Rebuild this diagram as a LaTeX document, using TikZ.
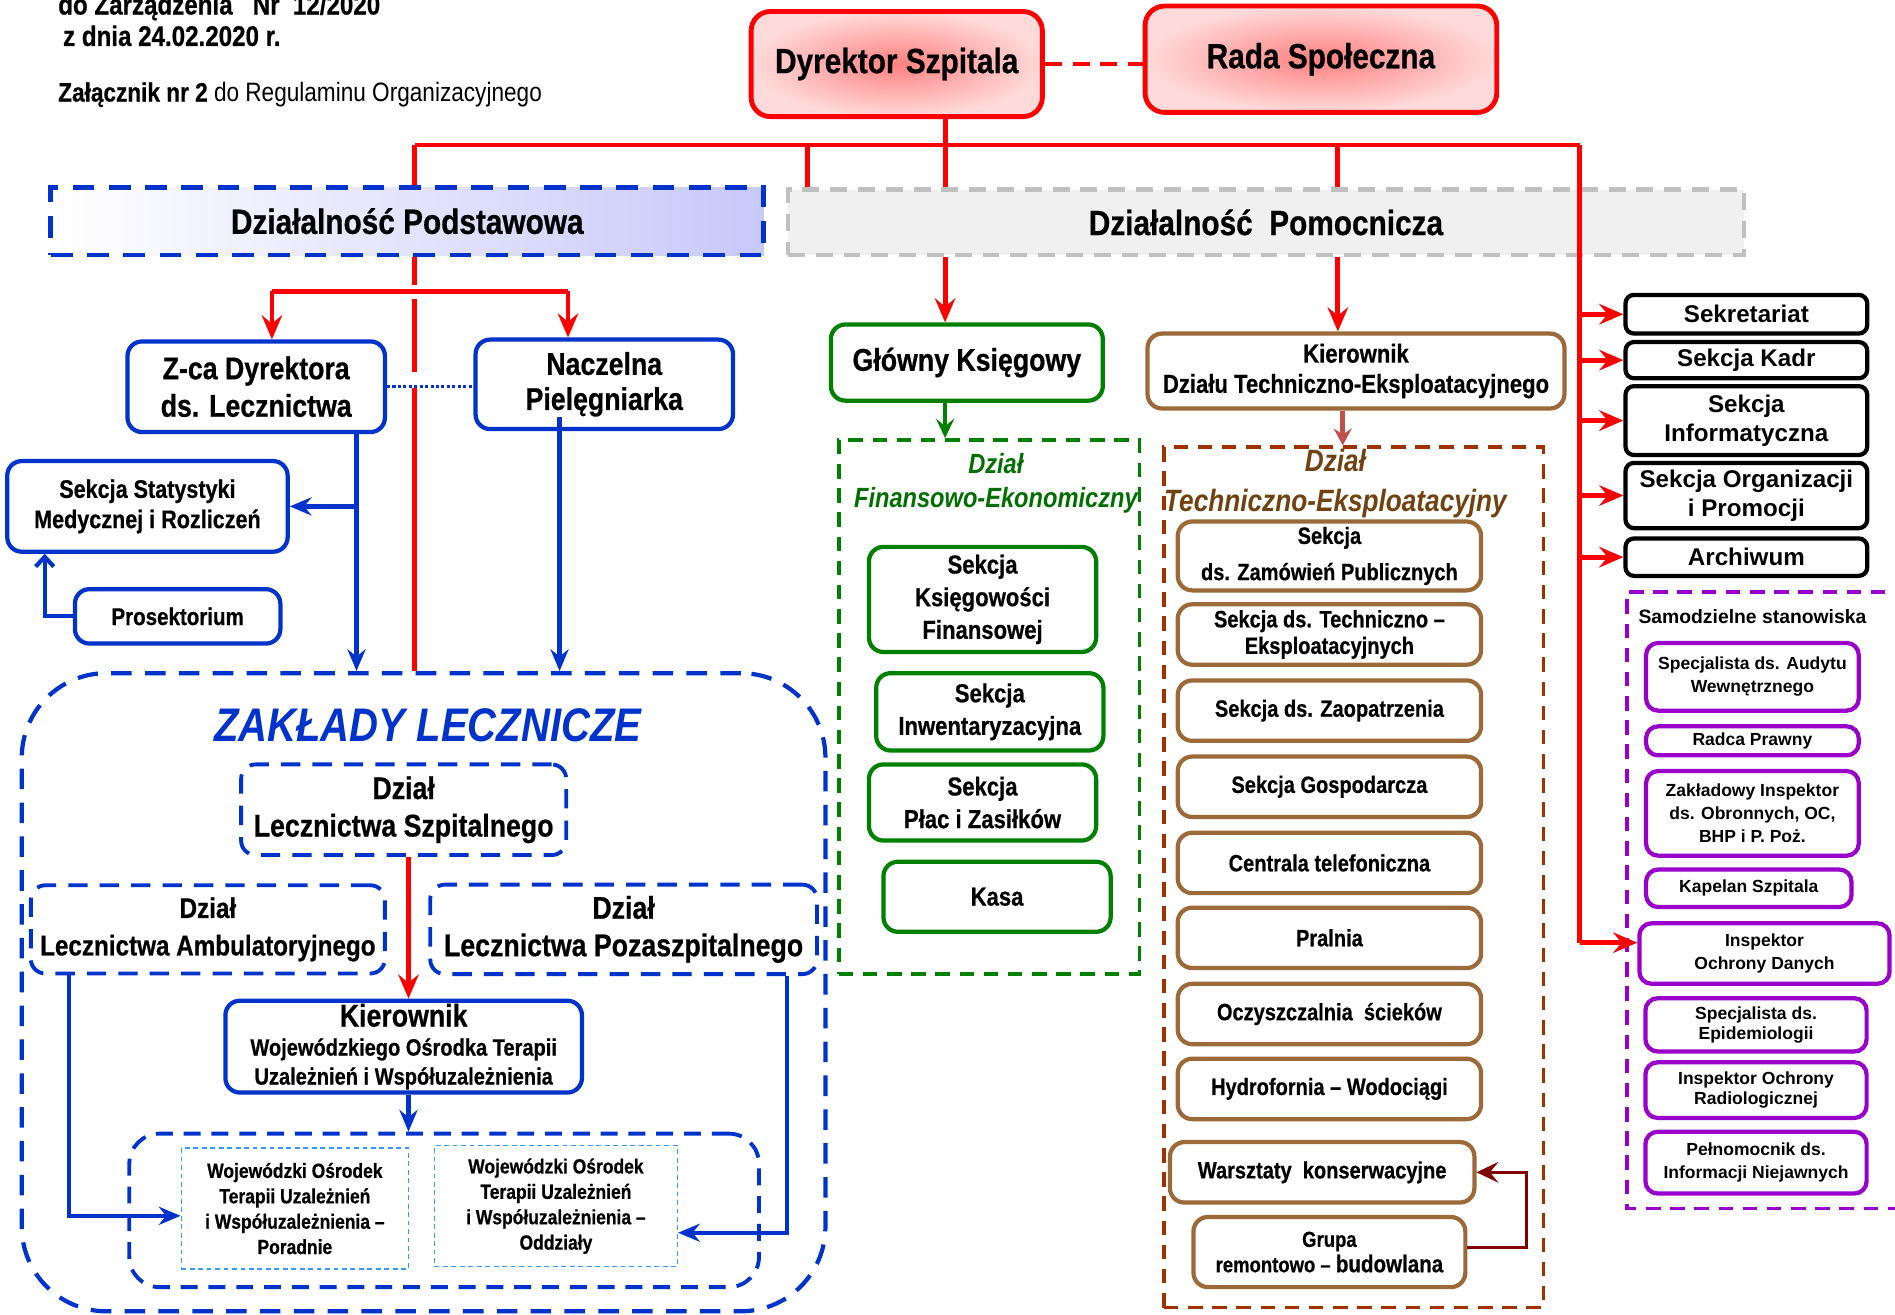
\documentclass[tikz,border=0pt]{standalone}
\usepackage{fontspec}
\setmainfont{Liberation Sans}
\newfontfamily\nf[FakeStretch=0.85, BoldFeatures={FakeBold=0.6}]{Liberation Sans}
\usetikzlibrary{arrows.meta}
\newcommand\fsz[2]{\fontsize{#1pt}{#2pt}\selectfont}
\definecolor{myred}{RGB}{255,0,0}
\definecolor{myblue}{RGB}{0,51,204}
\definecolor{mygreen}{RGB}{0,128,0}
\definecolor{dkgreen}{RGB}{0,110,0}
\definecolor{brn}{RGB}{156,106,56}
\definecolor{brnd}{RGB}{160,50,0}
\definecolor{brnt}{RGB}{112,66,16}
\definecolor{purp}{RGB}{153,0,204}
\definecolor{lblue}{RGB}{51,153,255}
\definecolor{dred}{RGB}{128,0,0}
\definecolor{lav}{RGB}{200,200,250}
\definecolor{gry}{RGB}{192,192,192}
\definecolor{gryf}{RGB}{240,240,240}
\definecolor{pinkc}{RGB}{255,128,128}
\definecolor{pinke}{RGB}{255,218,218}
\definecolor{arrb}{RGB}{192,80,77}
\begin{document}
\begin{tikzpicture}[x=1pt,y=-1pt,
  box/.style={rounded corners=12pt, line width=3.5pt, align=center, inner sep=0pt, fill=white},
  topbox/.style={rounded corners=16pt, draw=myred, line width=4pt, align=center, inner sep=0pt,
     shading=radial, inner color=pinkc, outer color=pinke, font=\nf\bfseries\fsz{29}{34}},
  bbox/.style={box, draw=myblue},
  dbbox/.style={box, draw=myblue, dash pattern=on 16pt off 10pt, line width=3.2pt, font=\nf\bfseries\fsz{26}{31}},
  lbbox/.style={draw=lblue, line width=1.2pt, dash pattern=on 4pt off 3pt, align=center, inner sep=0pt, font=\nf\bfseries\fsz{17}{21}},
  gbox/.style={box, draw=mygreen, font=\nf\bfseries\fsz{21.5}{27}},
  brbox/.style={box, draw=brn, minimum width=251, minimum height=50, font=\nf\bfseries\fsz{19.5}{22}},
  kbox/.style={box, draw=black, rounded corners=7pt, minimum width=200, font=\bfseries\fsz{20}{24}},
  pbox/.style={box, draw=purp, rounded corners=10pt, font=\bfseries\fsz{14.5}{19}},
  rl/.style={draw=myred, line width=4pt},
  rarr/.style={rl, -{Stealth[length=20pt,width=17pt,inset=7pt]}},
  bl/.style={draw=myblue, line width=3.5pt},
  barr/.style={bl, -{Stealth[length=18pt,width=15pt,inset=6pt]}},
]
\useasboundingbox (0,0) rectangle (1568,1088);

% ---------- header ----------
\node[anchor=base west, inner sep=0, font=\nf\bfseries\fsz{23.5}{27}] (h1) at (48,12) {do Zarządzenia \ \ Nr \ 12/2020};
\node[anchor=base west, inner sep=0, font=\nf\bfseries\fsz{23.5}{27}] (h2) at (52,38) {z dnia 24.02.2020 r.};
\node[anchor=base west, inner sep=0, font=\nf\fsz{22}{26}] (h3) at (48,84) {\textbf{Załącznik nr 2} do Regulaminu Organizacyjnego};

% ---------- top ----------
\node[topbox, minimum width=241, minimum height=87] (dyr) at (742,53) {Dyrektor Szpitala};
\node[topbox, minimum width=291, minimum height=88] (rada) at (1093,49) {Rada Społeczna};
\draw[rl, dash pattern=on 14pt off 9pt] (dyr.east) -- (dyr.east -| rada.west);

\node[draw=myblue, line width=4pt, dash pattern=on 18pt off 12pt, left color=white, right color=lav,
      minimum width=590, minimum height=56, inner sep=0, font=\nf\bfseries\fsz{29}{34}] (pod) at (337,183) {Działalność Podstawowa};
\node[draw=gry, fill=gryf, line width=4pt, dash pattern=on 14pt off 9pt,
      minimum width=791, minimum height=54, inner sep=0, font=\nf\bfseries\fsz{29}{34}] (pom) at (1047.5,184) {Działalność \ Pomocnicza};

\coordinate (xL) at (343,120);
\coordinate (xR) at (1307,120);
\coordinate (x668) at (668,120);
\coordinate (x1107) at (1107,120);
\coordinate (xg) at (782,120);
\draw[rl] (xL) -- (xR);
\draw[rl] (dyr.south -| xg) -- (xg |- pom.north);
\draw[rl] (xL) -- (xL |- pod.north);
\draw[rl] (x668) -- (x668 |- pom.north);
\draw[rl] (x1107) -- (x1107 |- pom.north);

% ---------- left: Podstawowa ----------
\node[bbox, minimum width=213, minimum height=75, font=\nf\bfseries\fsz{26}{31}] (zca) at (212,320) {Z-ca Dyrektora\\ds. Lecznictwa};
\node[bbox, minimum width=213, minimum height=74, font=\nf\bfseries\fsz{26}{29}] (nacz) at (500,318) {Naczelna\\Pielęgniarka};
\node[bbox, minimum width=232, minimum height=75, font=\nf\bfseries\fsz{21}{25}] (stat) at (122,419) {Sekcja Statystyki\\Medycznej i Rozliczeń};
\node[bbox, minimum width=170, minimum height=45, font=\nf\bfseries\fsz{20}{24}] (pros) at (147,510) {Prosektorium};

\node[draw=myblue, line width=3.5pt, dash pattern=on 17pt off 11pt, rounded corners=70pt,
      minimum width=665, minimum height=528, inner sep=0] (zak) at (350.5,821) {};
\node[text=myblue, inner sep=0, font=\nf\bfseries\itshape\fsz{39}{44}] (zakt) at (354,600) {ZAKŁADY LECZNICZE};

\coordinate (xzl) at (225,241);
\coordinate (xnr) at (470,241);
\coordinate (g1) at (343,236);
\coordinate (g2) at (343,247);
\coordinate (g3) at (343,308);
\coordinate (g4) at (343,321);
\draw[rl] (xL |- pod.south) -- (g1);
\draw[rl] (g2) -- (g3);
\draw[rl] (g4) -- (xL |- zak.north);
\draw[rl] (xnr) -- (xzl);
\draw[rarr] (xzl) -- (xzl |- zca.north);
\draw[rarr] (xnr) -- (xnr |- nacz.north);
\draw[myblue, line width=2.2pt, dash pattern=on 2.5pt off 2pt] (zca.east) -- (zca.east -| nacz.west);

\coordinate (xz) at (295,0);
\coordinate (xn) at (463,345);
\coordinate (xp) at (37,0);
\draw[barr] (xz |- zca.south) -- (xz |- zak.north);
\draw[barr] (xz |- stat.east) -- (stat.east);
\draw[bl, -{Straight Barb[length=8pt,width=15pt]}] (pros.west) -| (xp |- stat.south);
\draw[barr] (xn) -- (xn |- zak.north);

% ---------- Zaklady interior ----------
\node[dbbox, minimum width=269, minimum height=75] (szp) at (334,670) {Dział\\Lecznictwa Szpitalnego};
\node[dbbox, minimum width=293, minimum height=73, font=\nf\bfseries\fsz{23.6}{31}] (amb) at (172,769) {Dział\\Lecznictwa Ambulatoryjnego};
\node[dbbox, minimum width=320, minimum height=74] (poz) at (516,769) {Dział\\Lecznictwa Pozaszpitalnego};
\node[bbox, minimum width=295, minimum height=76, font=\nf\bfseries\fsz{19.5}{24}] (kier) at (334,866)
  {{\fsz{26}{24}Kierownik}\\Wojewódzkiego Ośrodka Terapii\\Uzależnień i Współuzależnienia};
\node[draw=myblue, line width=3.2pt, dash pattern=on 14pt off 9pt, rounded corners=25pt,
      minimum width=521, minimum height=127, inner sep=0] (inner) at (367.5,1001.5) {};
\node[lbbox, minimum width=188, minimum height=100] (por) at (244,1000)
  {Wojewódzki Ośrodek\\Terapii Uzależnień\\i Współuzależnienia –\\Poradnie};
\node[lbbox, minimum width=201, minimum height=100] (odd) at (460,998)
  {Wojewódzki Ośrodek\\Terapii Uzależnień\\i Współuzależnienia –\\Oddziały};

\coordinate (xk2) at (338,0);
\coordinate (xa) at (57,0);
\coordinate (xpz) at (651,0);
\draw[rarr] (xk2 |- szp.south) -- (xk2 |- kier.north);
\draw[barr] (xk2 |- kier.south) -- (xk2 |- inner.north);
\draw[barr] (xa |- amb.south) |- ([yshift=-6pt]por.west);
\draw[barr] (xpz |- poz.south) |- ([yshift=-22pt]odd.east);

% ---------- middle: finance ----------
\node[box, draw=mygreen, minimum width=225, minimum height=63, font=\nf\bfseries\fsz{26}{31}] (gk) at (800,300) {Główny Księgowy};
\node[draw=mygreen, line width=3pt, dash pattern=on 12pt off 8pt, minimum width=249, minimum height=442, inner sep=0] (fin) at (818.5,585) {};
\node[text=dkgreen, align=center, inner sep=0, font=\nf\bfseries\itshape\fsz{23}{28}] (fint) at (824,400) {Dział\\Finansowo-Ekonomiczny};
\node[gbox, minimum width=188, minimum height=87] (ksf) at (813,496) {Sekcja\\Księgowości\\Finansowej};
\node[gbox, minimum width=188, minimum height=64] (inw) at (819,589) {Sekcja\\Inwentaryzacyjna};
\node[gbox, minimum width=188, minimum height=63] (plac) at (813,664) {Sekcja\\Płac i Zasiłków};
\node[gbox, minimum width=188, minimum height=58] (kasa) at (825,742) {Kasa};
\draw[rarr] (xg |- pom.south) -- (xg |- gk.north);
\draw[mygreen, line width=3.5pt, -{Stealth[length=16pt,width=15pt,inset=6pt]}] (xg |- gk.south) -- (xg |- fin.north);

% ---------- middle: technical ----------
\node[box, draw=brn, minimum width=345, minimum height=62, font=\nf\bfseries\fsz{21.5}{25}] (kdte) at (1122,307) {Kierownik\\Działu Techniczno-Eksploatacyjnego};
\node[draw=brnd, line width=3pt, dash pattern=on 12pt off 8pt, minimum width=314, minimum height=712, inner sep=0] (tech) at (1120,726) {};
\node[text=brnt, align=center, inner sep=0, font=\nf\bfseries\itshape\fsz{25.5}{33}] (techt) at (1105,400) {Dział\\Techniczno-Eksploatacyjny};
\node[brbox, minimum height=57, font=\nf\bfseries\fsz{19.5}{30}] (zam) at (1100,460) {Sekcja\\ds. Zamówień Publicznych};
\node[brbox] (tex) at (1100,525) {Sekcja ds. Techniczno –\\Eksploatacyjnych};
\node[brbox] (zao) at (1100,588) {Sekcja ds. Zaopatrzenia};
\node[brbox] (gos) at (1100,651) {Sekcja Gospodarcza};
\node[brbox] (cen) at (1100,714) {Centrala telefoniczna};
\node[brbox] (pra) at (1100,776) {Pralnia};
\node[brbox] (ocz) at (1100,839) {Oczyszczalnia \ ścieków};
\node[brbox] (hyd) at (1100,901) {Hydrofornia – Wodociągi};
\node[brbox, minimum width=252] (war) at (1094,970) {Warsztaty \ konserwacyjne};
\node[brbox, minimum width=225, minimum height=58, font=\nf\bfseries\fsz{18}{21}] (gru) at (1100,1036) {Grupa\\remontowo – {\fsz{20}{21}budowlana}};
\draw[rarr] (x1107 |- pom.south) -- (x1107 |- kdte.north);
\coordinate (xb) at (1111,0);
\draw[arrb, line width=4.5pt, -{Stealth[length=14pt,width=15pt,inset=5pt]}] (xb |- kdte.south) -- (xb |- tech.north);
\coordinate (xr) at (1263,0);
\draw[dred, line width=2.5pt, -{Stealth[length=18pt,width=17pt,inset=7pt]}] ([yshift=4pt]gru.east) -- ([yshift=4pt]xr |- gru.east) -- (xr |- war.east) -- (war.east);

% ---------- right column ----------
\node[kbox, minimum height=32] (sekr) at (1445,260) {Sekretariat};
\node[kbox, minimum height=30] (kadr) at (1445,298) {Sekcja Kadr};
\node[kbox, minimum height=57] (info) at (1445,348) {Sekcja\\Informatyczna};
\node[kbox, minimum height=54] (org) at (1445,410) {Sekcja Organizacji\\i Promocji};
\node[kbox, minimum height=31] (arch) at (1445,461) {Archiwum};

\draw[purp, line width=3pt, dash pattern=on 12pt off 8pt] (1600,490) -- (1346,490) -- (1346,1000) -- (1600,1000);
\node[inner sep=0, font=\bfseries\fsz{16}{19}] (samt) at (1450,510) {Samodzielne stanowiska};
\node[pbox, minimum width=176, minimum height=56] (aud) at (1450,560) {Specjalista ds. Audytu\\Wewnętrznego};
\node[pbox, minimum width=176, minimum height=24] (radca) at (1450,613) {Radca Prawny};
\node[pbox, minimum width=176, minimum height=70] (zins) at (1450,673) {Zakładowy Inspektor\\ds. Obronnych, OC,\\BHP i P. Poż.};
\node[pbox, minimum width=170, minimum height=31] (kap) at (1447,735) {Kapelan Szpitala};
\node[pbox, minimum width=207, minimum height=50] (odo) at (1460,789) {Inspektor\\Ochrony Danych};
\node[pbox, minimum width=183, minimum height=44, font=\bfseries\fsz{14.5}{17}] (epi) at (1453,848) {Specjalista ds.\\Epidemiologii};
\node[pbox, minimum width=183, minimum height=46, font=\bfseries\fsz{14.5}{17}] (rad) at (1453,902) {Inspektor Ochrony\\Radiologicznej};
\node[pbox, minimum width=183, minimum height=51] (peln) at (1453,962) {Pełnomocnik ds.\\Informacji Niejawnych};

\coordinate (yodo) at (1307,780);
\draw[rl] (xR) -- (yodo);
\draw[rarr] (yodo) -- (yodo -| odo.west);
\draw[rarr] (xR |- sekr.west) -- (sekr.west);
\draw[rarr] (xR |- kadr.west) -- (kadr.west);
\draw[rarr] (xR |- info.west) -- (info.west);
\draw[rarr] (xR |- org.west) -- (org.west);
\draw[rarr] (xR |- arch.west) -- (arch.west);
\end{tikzpicture}
\end{document}
